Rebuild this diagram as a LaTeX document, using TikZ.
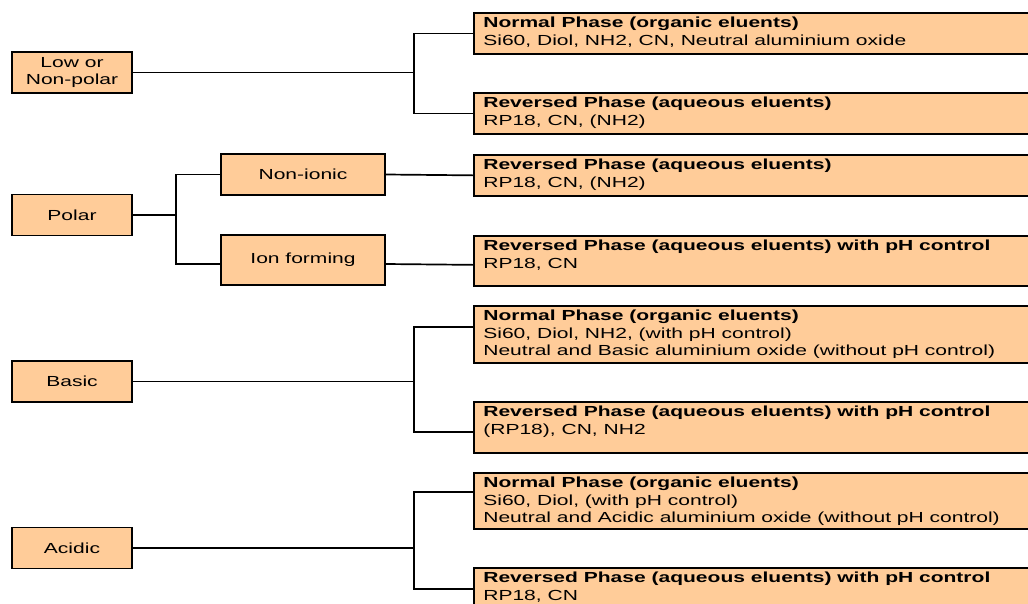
\documentclass[tikz,border=0pt]{standalone}
\usepackage{fontspec}
\setmainfont{Liberation Sans}[FakeStretch=1.44]
\definecolor{peach}{RGB}{255,204,153}
\newcommand\rtxt[2]{\parbox[c][#1pt][t]{600pt}{\raggedright\rule{0pt}{15pt}#2}}
\begin{document}
\begin{tikzpicture}[x=1pt,y=-1pt,
  box/.style={draw=black, line width=1.7pt, fill=peach, font=\fontsize{14.6}{17.5}\selectfont, inner sep=0pt},
  lbox/.style={box, minimum width=120pt, minimum height=41pt, align=center},
  mbox/.style={box, minimum width=164pt, align=center},
  rbox/.style={box, anchor=north west, inner xsep=9.5pt, inner ysep=0pt},
  conn/.style={line width=1.7pt}]
\useasboundingbox (0,0) rectangle (1028,603);
\fill[white] (0,0) rectangle (1028,603);

% left category boxes
\node[lbox] (low) at (72,72.5) {Low or\\Non-polar};
\node[lbox] (polar) at (72,215) {Polar};
\node[lbox] (basic) at (72,381.5) {Basic};
\node[lbox] (acidic) at (72,548) {Acidic};

% middle boxes
\node[mbox, minimum height=41pt] (nonionic) at (303,174.5) {Non-ionic};
\node[mbox, minimum height=50pt] (ion) at (303,260) {Ion forming};

% right boxes
\node[rbox] (r1) at (473,12) {\rtxt{41}{\textbf{Normal Phase (organic eluents)}\\Si60, Diol, NH2, CN, Neutral aluminium oxide}};
\node[rbox] (r2) at (473,92) {\rtxt{41}{\textbf{Reversed Phase (aqueous eluents)}\\RP18, CN, (NH2)}};
\node[rbox] (r3) at (473,154) {\rtxt{41}{\textbf{Reversed Phase (aqueous eluents)}\\RP18, CN, (NH2)}};
\node[rbox] (r4) at (473,235) {\rtxt{50}{\textbf{Reversed Phase (aqueous eluents) with pH control}\\RP18, CN}};
\node[rbox] (r5) at (473,305) {\rtxt{57}{\textbf{Normal Phase (organic eluents)}\\Si60, Diol, NH2, (with pH control)\\Neutral and Basic aluminium oxide (without pH control)}};
\node[rbox] (r6) at (473,401) {\rtxt{51}{\textbf{Reversed Phase (aqueous eluents) with pH control}\\(RP18), CN, NH2}};
\node[rbox] (r7) at (473,472) {\rtxt{56}{\textbf{Normal Phase (organic eluents)}\\Si60, Diol, (with pH control)\\Neutral and Acidic aluminium oxide (without pH control)}};
\node[rbox] (r8) at (473,567) {\rtxt{51}{\textbf{Reversed Phase (aqueous eluents) with pH control}\\RP18, CN}};

% connectors
\coordinate (j1) at (414,72.5);
\draw[conn] (low.east) -- (j1);
\draw[conn] (r1.west) -| (j1) |- (r2.west);

\coordinate (j2) at (176,215);
\draw[conn] (polar.east) -- (j2);
\draw[conn] (nonionic.west) -| (j2) |- ([yshift=-4pt]ion.west);
\draw[conn] (nonionic.east) -- (r3.west);
\draw[conn] ([yshift=-4pt]ion.east) -- ([yshift=-4pt]r4.west);

\coordinate (j3) at (414,381.5);
\draw[conn] (basic.east) -- (j3);
\draw[conn] ([yshift=7.5pt]r5.west) -| (j3) |- ([yshift=-4.5pt]r6.west);

\coordinate (j4) at (414,548);
\draw[conn] (acidic.east) -- (j4);
\draw[conn] ([yshift=9pt]r7.west) -| (j4) |- ([yshift=4.5pt]r8.west);
\end{tikzpicture}
\end{document}
